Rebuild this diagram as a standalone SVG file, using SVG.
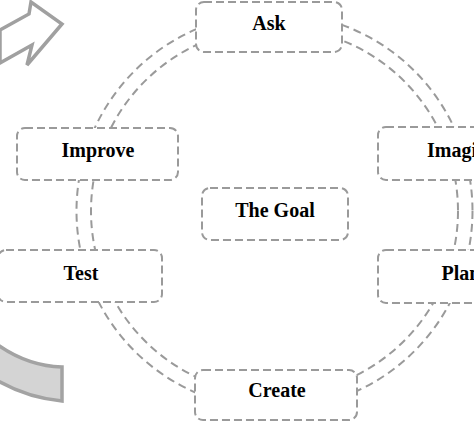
<svg xmlns="http://www.w3.org/2000/svg" width="474" height="421" viewBox="0 0 474 421">
<style>
.ring{fill:none;stroke:#9a9a9a;stroke-width:2;stroke-dasharray:8 5}
.box{fill:#fff;stroke:#9a9a9a;stroke-width:2;stroke-dasharray:8 4}
.lbl{font-family:"Liberation Serif","Times New Roman",serif;font-weight:bold;font-size:20px;fill:#000;text-anchor:middle}
</style>
<rect width="474" height="421" fill="#fff"/>
<g id="arrow-top">
<polygon points="0,30 29,14 31,2 62,24 27,65 32,45 0,63" fill="#fff" stroke="#a0a0a0" stroke-width="3.5" stroke-linejoin="miter"/>
</g>
<g id="arrow-bottom">
<path d="M-2,345 Q28,366 62,367 L62,401 Q28,398 -2,381 Z" fill="#d4d4d4" stroke="#a3a3a3" stroke-width="3.5"/>
</g>
<g id="connectors">
<circle class="ring" cx="274.5" cy="211" r="198"/>
<circle class="ring" cx="274.5" cy="211" r="183.5"/>
</g>
<g id="ask"><rect class="box" x="196" y="2" width="146" height="50" rx="8"/><text class="lbl" x="269" y="30">Ask</text></g>
<g id="imagine"><rect class="box" x="378" y="127" width="166" height="53" rx="8"/><text class="lbl" x="462" y="157">Imagine</text></g>
<g id="plan"><rect class="box" x="378" y="250" width="166" height="53" rx="8"/><text class="lbl" x="461" y="280">Plan</text></g>
<g id="create"><rect class="box" x="195" y="370" width="162" height="50" rx="8"/><text class="lbl" x="277" y="397">Create</text></g>
<g id="test"><rect class="box" x="-2" y="250" width="164" height="52" rx="8"/><text class="lbl" x="81" y="280">Test</text></g>
<g id="improve"><rect class="box" x="17" y="128" width="161" height="52" rx="8"/><text class="lbl" x="98" y="157">Improve</text></g>
<g id="goal"><rect class="box" x="202" y="188" width="146" height="52" rx="8"/><text class="lbl" x="275" y="217">The Goal</text></g>
</svg>
